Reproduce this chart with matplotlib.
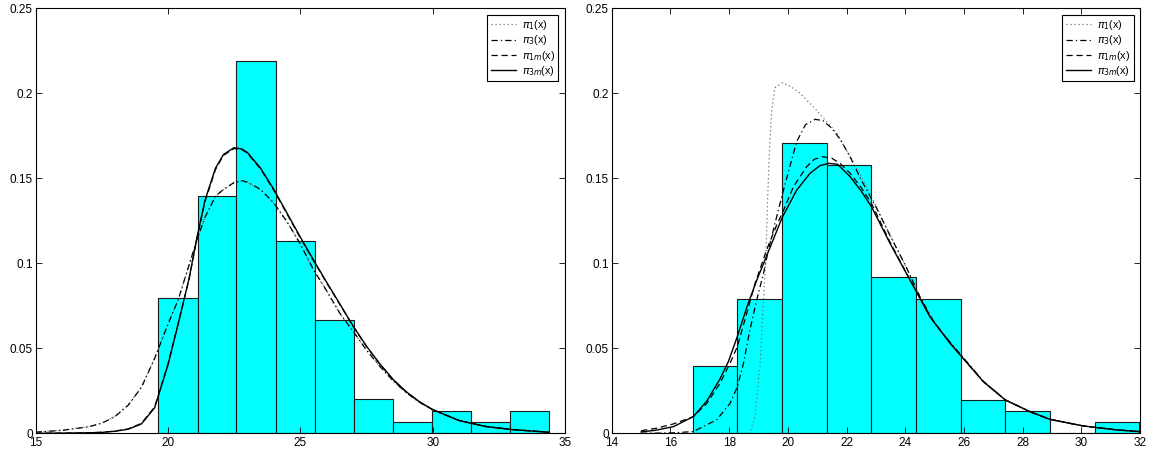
import numpy as np
import matplotlib
matplotlib.use("Agg")
from matplotlib import pyplot as plt

plt.rcParams['font.family'] = ['Liberation Sans', 'DejaVu Sans']
plt.rcParams['mathtext.fontset'] = 'dejavusans'

# ---- left panel: histogram ----
left_edges = [19.64, 21.12, 22.59, 24.07, 25.55, 27.02, 28.50, 29.98, 31.46, 32.93, 34.41]
left_heights = [0.0797, 0.1394, 0.2191, 0.1129, 0.0664, 0.0199, 0.0066, 0.0133, 0.0066, 0.0133]

# ---- left panel: density curves ----
left_x = [15, 16, 17, 17.5, 18, 18.5, 19, 19.5, 20, 20.4, 20.8, 21.1, 21.4, 21.8, 22.1, 22.5,
          22.8, 23, 23.5, 24, 24.5, 25, 25.5, 26, 26.5, 27, 27.5, 28, 28.5, 29, 29.5, 30,
          31, 32, 33, 34.4]
left_pi3m = [0.0000, 0.0001, 0.0003, 0.0005, 0.0012, 0.0024, 0.0055, 0.0150, 0.0400, 0.0650,
             0.0910, 0.1153, 0.1370, 0.1560, 0.1640, 0.1680, 0.1672, 0.1652, 0.1560, 0.1435,
             0.1295, 0.1155, 0.1020, 0.0888, 0.0760, 0.0630, 0.0513, 0.0410, 0.0318, 0.0245,
             0.0186, 0.0140, 0.0075, 0.0040, 0.0022, 0.0006]
left_pi1m = [0.0000, 0.0001, 0.0003, 0.0006, 0.0013, 0.0026, 0.0058, 0.0155, 0.0405, 0.0652,
             0.0905, 0.1148, 0.1362, 0.1552, 0.1635, 0.1675, 0.1668, 0.1648, 0.1555, 0.1430,
             0.1290, 0.1150, 0.1015, 0.0884, 0.0757, 0.0628, 0.0511, 0.0408, 0.0317, 0.0244,
             0.0185, 0.0139, 0.0075, 0.0040, 0.0022, 0.0006]
left_pi3 = [0.0007, 0.0017, 0.0038, 0.0059, 0.0098, 0.0165, 0.0270, 0.0440, 0.0640, 0.0790,
            0.0990, 0.1140, 0.1270, 0.1395, 0.1435, 0.1475, 0.1486, 0.1478, 0.1435, 0.1355,
            0.1245, 0.1115, 0.0962, 0.0838, 0.0705, 0.0600, 0.0490, 0.0395, 0.0310, 0.0240,
            0.0183, 0.0138, 0.0076, 0.0041, 0.0022, 0.0006]
left_pi1 = [0.0008, 0.0018, 0.0039, 0.0060, 0.0099, 0.0166, 0.0272, 0.0442, 0.0638, 0.0792,
            0.0988, 0.1136, 0.1268, 0.1392, 0.1432, 0.1472, 0.1483, 0.1476, 0.1433, 0.1352,
            0.1243, 0.1112, 0.0960, 0.0836, 0.0703, 0.0598, 0.0489, 0.0394, 0.0309, 0.0239,
            0.0182, 0.0137, 0.0076, 0.0041, 0.0022, 0.0006]

# ---- right panel: histogram ----
right_edges = [16.76, 18.28, 19.80, 21.33, 22.85, 24.37, 25.89, 27.41, 28.93, 30.45, 31.98]
right_heights = [0.0394, 0.0789, 0.1709, 0.1577, 0.0920, 0.0789, 0.0197, 0.0131, 0.0, 0.0066]

# ---- right panel: density curves ----
r3m_x = [15.0, 15.5, 16.1, 16.78, 17.24, 17.69, 17.97, 18.28, 18.62, 18.94, 19.34, 19.81, 20.3,
         20.76, 21.1, 21.4, 21.7, 22.12, 22.5, 22.85, 23.48, 24.16, 24.84, 25.53, 26.1, 26.66,
         27.41, 28.25, 28.93, 30.07, 31.2, 31.98]
r3m_y = [0.0008, 0.0018, 0.0039, 0.0098, 0.0190, 0.0320, 0.0420, 0.0570, 0.0750, 0.0900,
         0.1070, 0.1270, 0.1430, 0.1530, 0.1575, 0.1588, 0.1582, 0.1510, 0.1425, 0.1333,
         0.1118, 0.0902, 0.0686, 0.0529, 0.0415, 0.0304, 0.0196, 0.0127, 0.0082, 0.0043,
         0.0020, 0.0010]

r1m_x = [15.0, 15.53, 16.1, 16.78, 17.24, 17.69, 18.03, 18.28, 18.6, 18.88, 19.28, 19.62, 19.81,
         20.19, 20.64, 20.9, 21.2, 21.5, 21.8, 22.12, 22.5, 22.85, 23.48, 24.16, 24.84, 25.53,
         26.1, 26.66, 27.41, 28.25, 28.93, 30.07, 31.2, 31.98]
r1m_y = [0.0015, 0.0030, 0.0055, 0.0098, 0.0176, 0.0294, 0.0412, 0.0510, 0.0706, 0.0880,
         0.1080, 0.1225, 0.1294, 0.1450, 0.1568, 0.1612, 0.1627, 0.1618, 0.1585, 0.1530,
         0.1445, 0.1353, 0.1125, 0.0905, 0.0688, 0.0530, 0.0415, 0.0304, 0.0196, 0.0127,
         0.0082, 0.0043, 0.0020, 0.0010]

r3_x = [15.0, 16.0, 16.78, 17.58, 18.03, 18.28, 18.49, 18.71, 18.94, 19.17, 19.34, 19.62, 19.85,
        20.07, 20.3, 20.6, 20.93, 21.2, 21.5, 21.8, 22.12, 22.5, 23.0, 23.5, 24.0, 24.5, 25.0,
        25.53, 26.1, 26.66, 27.41, 28.25, 28.93, 30.07, 31.2, 31.98]
r3_y = [0.0, 0.0002, 0.0010, 0.0080, 0.0176, 0.0274, 0.0412, 0.0610, 0.0784, 0.0940, 0.1080,
        0.1274, 0.1430, 0.1570, 0.1715, 0.1815, 0.1847, 0.1839, 0.1794, 0.1725, 0.1627,
        0.1490, 0.1333, 0.1157, 0.0990, 0.0804, 0.0647, 0.0535, 0.0420, 0.0306, 0.0197,
        0.0127, 0.0082, 0.0043, 0.0020, 0.0010]

r1_x = [15.0, 18.0, 18.71, 18.88, 19.05, 19.17, 19.26, 19.31, 19.37, 19.45, 19.56, 19.81, 20.1,
        20.42, 20.98, 21.67, 22.12, 22.57, 23.0, 23.5, 24.0, 24.5, 25.0, 25.53, 26.1, 26.66,
        27.41, 28.25, 28.93, 30.07, 31.2, 31.98]
r1_y = [0.0, 0.0, 0.0, 0.0100, 0.0392, 0.0780, 0.1080, 0.1370, 0.1650, 0.1900, 0.2033, 0.2062,
        0.2040, 0.2000, 0.1900, 0.1765, 0.1627, 0.1490, 0.1338, 0.1160, 0.0990, 0.0805,
        0.0648, 0.0535, 0.0420, 0.0306, 0.0197, 0.0127, 0.0082, 0.0043, 0.0020, 0.0010]

labels = [r'$\pi_1$(x)', r'$\pi_3$(x)', r'$\pi_{1m}$(x)', r'$\pi_{3m}$(x)']
yticks = [0, 0.05, 0.1, 0.15, 0.2, 0.25]
ytick_labels = ['0', '0.05', '0.1', '0.15', '0.2', '0.25']
left_xticks = [15, 20, 25, 30, 35]
right_xticks = [14, 16, 18, 20, 22, 24, 26, 28, 30, 32]

fig = plt.figure(figsize=(11.49, 4.53), dpi=100)
ax1 = fig.add_axes([0.0309, 0.0435, 0.4608, 0.9382])
ax2 = fig.add_axes([0.5324, 0.0435, 0.4598, 0.9382])


def draw(ax, edges, heights, curves, xlim, xticks):
    ax.bar(edges[:-1], heights, width=np.diff(edges), align='edge',
           color='#00ffff', edgecolor='0.1', linewidth=0.8, zorder=1)
    styles = [dict(ls=(0, (1, 2.2)), color='0.45', lw=0.9),
              dict(ls=(0, (5, 2.5, 1, 2.5)), color='black', lw=0.9),
              dict(ls=(0, (5, 3)), color='black', lw=0.9),
              dict(ls='-', color='black', lw=1.0)]
    for (cx, cy), st, lab in zip(curves, styles, labels):
        ax.plot(cx, cy, label=lab, zorder=3, **st)
    ax.set_xlim(xlim)
    ax.set_ylim(0, 0.25)
    ax.set_xticks(xticks)
    ax.set_xticklabels([str(t) for t in xticks])
    ax.set_yticks(yticks)
    ax.set_yticklabels(ytick_labels)
    ax.tick_params(direction='in', length=4, width=0.6, top=True, right=True,
                   labelsize=8.5, pad=2)
    ax.tick_params(axis='x', pad=3)
    for s in ax.spines.values():
        s.set_linewidth(0.8)
    leg = ax.legend(loc='upper right', fontsize=7.8, fancybox=False, framealpha=1,
                    edgecolor='black', handlelength=2.3, handletextpad=0.6,
                    labelspacing=0.12, borderpad=0.3, borderaxespad=0.6)
    leg.get_frame().set_linewidth(0.8)


draw(ax1, left_edges, left_heights,
     [(left_x, left_pi1), (left_x, left_pi3), (left_x, left_pi1m), (left_x, left_pi3m)],
     (15, 35), left_xticks)
draw(ax2, right_edges, right_heights,
     [(r1_x, r1_y), (r3_x, r3_y), (r1m_x, r1m_y), (r3m_x, r3m_y)],
     (14, 32), right_xticks)

fig.savefig("out.png", dpi=100)
